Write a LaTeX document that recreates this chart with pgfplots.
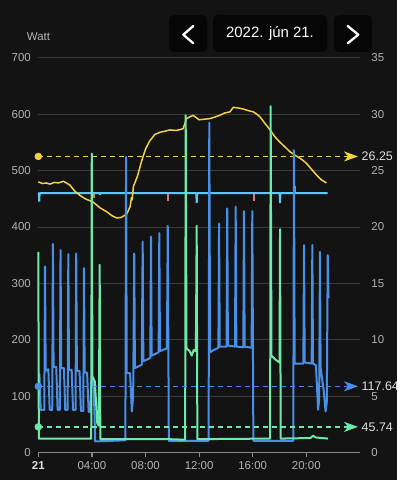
\documentclass[border=0pt]{standalone}
\usepackage{pgfplots}
\pgfplotsset{compat=1.18}
\usetikzlibrary{arrows.meta}
\usepackage{fontspec}
\setmainfont{Liberation Sans}
\definecolor{bg}{HTML}{131313}
\definecolor{btn}{HTML}{060606}
\definecolor{gridc}{HTML}{3A3A3A}
\definecolor{axisc}{HTML}{8A8A8A}
\definecolor{labc}{HTML}{B4B4B4}
\definecolor{yel}{HTML}{F3D04A}
\definecolor{blu}{HTML}{4A8FE6}
\definecolor{grn}{HTML}{6FE9A8}
\definecolor{cya}{HTML}{5BC8F5}
\definecolor{redt}{HTML}{E57373}
\begin{document}
\begin{tikzpicture}
\fill[bg] (0,0) rectangle (397bp,480bp);
% header
\node[text=labc, font=\fontsize{11.5}{13}\selectfont] at (38.5bp,443bp) {Watt};
\fill[btn, rounded corners=5bp] (169bp,428bp) rectangle (207bp,465bp);
\fill[btn, rounded corners=5bp] (213bp,428bp) rectangle (327bp,465bp);
\fill[btn, rounded corners=5bp] (334bp,428bp) rectangle (372bp,465bp);
\draw[white, line width=2.3bp, line cap=round, line join=round] (193.3bp,454bp) -- (183.3bp,445.3bp) -- (193.3bp,436.7bp);
\draw[white, line width=2.3bp, line cap=round, line join=round] (347.7bp,454bp) -- (358.3bp,445.3bp) -- (347.7bp,436.7bp);
\node[text=white, font=\fontsize{15}{17}\selectfont] at (270bp,446bp) {2022. jún 21.};
% right axis (temperature)
\begin{axis}[
  at={(38.3bp,27.3bp)}, anchor=south west, scale only axis,
  width=321.6bp, height=395bp,
  xmin=0, xmax=24, ymin=0, ymax=35,
  clip=false,
  axis x line*=bottom, axis y line*=right,
  x axis line style={draw=axisc, line width=1.2bp},
  y axis line style={draw=none},
  xtick={0,4,8,12,16,20},
  xticklabels={{\color{white!88!black}\bfseries 21},04:00,08:00,12:00,16:00,20:00},
  ytick={0,5,...,35},
  ymajorgrids, grid style={gridc, line width=0.8bp},
  tick align=outside, major tick length=4bp,
  xtick style={draw=axisc, line width=1.2bp},
  ytick style={draw=none},
  tick label style={font=\fontsize{11.5}{13}\selectfont, text=labc},
  yticklabel style={anchor=west, xshift=4bp},
  xticklabel style={yshift=-1bp},
  /pgf/number format/assume math mode=true,
]
% red ticks
\addplot[redt, line width=2bp, line cap=butt] coordinates {(4.12,23) (4.12,22.55)};
\addplot[redt, line width=2bp, line cap=butt] coordinates {(6.58,23) (6.58,23.6)};
\addplot[redt, line width=2bp, line cap=butt] coordinates {(9.7,23) (9.7,22.3)};
\addplot[redt, line width=2bp, line cap=butt] coordinates {(16.07,23) (16.07,22.3)};
\addplot[redt, line width=2bp, line cap=butt] coordinates {(19.15,23) (19.15,23.6)};
% cyan state line
\addplot[cya, line width=2bp, line join=bevel] coordinates {
(0,23) (0.04,23) (0.07,22.24) (0.1,23) (4.57,23) (4.6,22.83) (4.63,23)
(11.79,23) (11.82,22.12) (11.85,23) (18.01,23) (18.04,22.12) (18.07,23) (21.6,23)};
% yellow temperature
\addplot[yel, line width=1.5bp, line join=round] coordinates {
(0,24.0) (0.3,23.85) (0.6,23.9) (0.87,23.8) (1.2,23.95) (1.5,23.9) (1.87,24.05)
(2.1,23.9) (2.37,23.7) (2.7,23.2) (3.11,22.8) (3.5,22.5) (4.1,22.2) (4.6,21.7)
(5.1,21.35) (5.5,21.0) (5.85,20.8) (6.2,20.85) (6.6,21.15) (6.85,21.8) (6.95,22.6)
(7.0,22.4) (7.1,23.6) (7.4,24.5) (7.7,25.8) (8.0,26.9) (8.3,27.6) (8.7,28.2)
(9.1,28.4) (9.5,28.5) (9.8,28.6) (10.3,28.55) (10.8,28.7) (10.95,29.2) (11.05,29.6)
(11.55,29.9) (12.0,29.5) (12.4,29.55) (12.8,29.6) (13.2,29.75) (13.55,29.9)
(13.9,30.1) (14.3,30.2) (14.55,30.6) (14.9,30.55) (15.3,30.45) (15.7,30.3)
(16.05,30.2) (16.3,30.0) (16.55,29.75) (16.9,29.2) (17.3,28.6) (17.65,28.0)
(18.0,27.55) (18.4,27.1) (18.8,26.65) (19.3,26.25) (19.65,26.0) (20.0,25.65)
(20.4,25.1) (20.77,24.6) (21.1,24.2) (21.5,23.9)};
% yellow reference
\addplot[yel, line width=1.4bp, dash pattern=on 5bp off 4bp, -{Stealth[length=14bp,width=10bp,inset=4bp]}] coordinates {(0,26.25) (23.86,26.25)}
  node[pos=1, anchor=west, text=white!88!black, font=\fontsize{12.5}{14}\selectfont, inner sep=2bp, xshift=1bp] {26.25};
\addplot[yel, only marks, mark=*, mark size=3.5bp] coordinates {(0,26.25)};
\end{axis}
% left axis (power)
\begin{axis}[
  at={(38.3bp,27.3bp)}, anchor=south west, scale only axis,
  width=321.6bp, height=395bp,
  xmin=0, xmax=24, ymin=0, ymax=700,
  clip=false,
  hide x axis,
  axis y line*=left,
  y axis line style={draw=none},
  ytick={0,100,...,700},
  ytick style={draw=none},
  tick label style={font=\fontsize{11.5}{13}\selectfont, text=labc},
  yticklabel style={anchor=east, xshift=-4bp},
  /pgf/number format/assume math mode=true,
]
% blue power
\addplot[blu, line width=2bp, line join=round] coordinates {
(0,140) (0.08,140) (0.18,76) (0.45,76) (0.5,330) (0.55,145) (0.75,148) (0.85,76)
(1.04,76) (1.09,370) (1.14,152) (1.34,152) (1.44,76) (1.61,76) (1.66,359) (1.71,150)
(1.91,150) (2.01,76) (2.19,76) (2.24,352) (2.29,147) (2.49,147) (2.59,76) (2.78,76)
(2.83,353) (2.88,145) (3.08,145) (3.18,74) (3.36,74) (3.41,327) (3.46,142) (3.64,142)
(3.76,72) (3.88,72) (3.98,135) (4.12,130) (4.25,20) (6.5,22) (6.55,524) (6.6,141)
(6.85,141) (6.98,73) (7.08,100) (7.16,353) (7.21,150) (7.72,156) (7.79,374) (7.84,162)
(8.36,168) (8.41,383) (8.46,172) (8.98,178) (9.03,389) (9.08,180) (9.6,185) (9.66,402)
(9.74,21) (12.71,21) (12.76,585) (12.82,178) (13.1,182) (13.44,186) (13.49,406)
(13.54,188) (14.05,188) (14.1,433) (14.15,190) (14.68,188) (14.73,436) (14.78,188)
(15.3,187) (15.35,428) (15.4,188) (15.92,186) (15.97,428) (16.05,21) (19.03,21)
(19.08,536) (19.13,158) (19.78,158) (19.83,368) (19.88,160) (20.4,158) (20.45,368)
(20.5,158) (20.72,155) (20.88,76) (20.96,95) (21.02,356) (21.07,150) (21.3,110)
(21.44,73) (21.53,90) (21.6,350) (21.66,274)};
% green power
\addplot[grn, line width=2bp, line join=round] coordinates {
(0,356) (0.04,25) (3.95,25) (3.99,530) (4.04,135) (4.22,126) (4.4,52) (4.52,48)
(4.58,333) (4.63,24) (9.74,24) (10.96,23) (11.0,598) (11.06,185) (11.3,180) (11.45,172)
(11.6,182) (11.76,180) (11.82,402) (11.87,24) (17.3,25) (17.34,614) (17.4,172)
(17.7,165) (18.0,160) (18.04,396) (18.09,25) (20.3,26) (20.5,30) (20.7,27) (21.62,25)};
% reference lines
\addplot[blu, line width=1.4bp, dash pattern=on 5bp off 4bp, -{Stealth[length=14bp,width=10bp,inset=4bp]}] coordinates {(0,117.64) (23.86,117.64)}
  node[pos=1, anchor=west, text=white!88!black, font=\fontsize{12.5}{14}\selectfont, inner sep=2bp, xshift=1bp] {117.64};
\addplot[blu, only marks, mark=*, mark size=3.5bp] coordinates {(0,117.64)};
\addplot[grn, line width=1.4bp, dash pattern=on 5bp off 4bp, -{Stealth[length=14bp,width=10bp,inset=4bp]}] coordinates {(0,45.74) (23.86,45.74)}
  node[pos=1, anchor=west, text=white!88!black, font=\fontsize{12.5}{14}\selectfont, inner sep=2bp, xshift=1bp] {45.74};
\addplot[grn, only marks, mark=*, mark size=3.5bp] coordinates {(0,45.74)};
\end{axis}
\end{tikzpicture}
\end{document}
